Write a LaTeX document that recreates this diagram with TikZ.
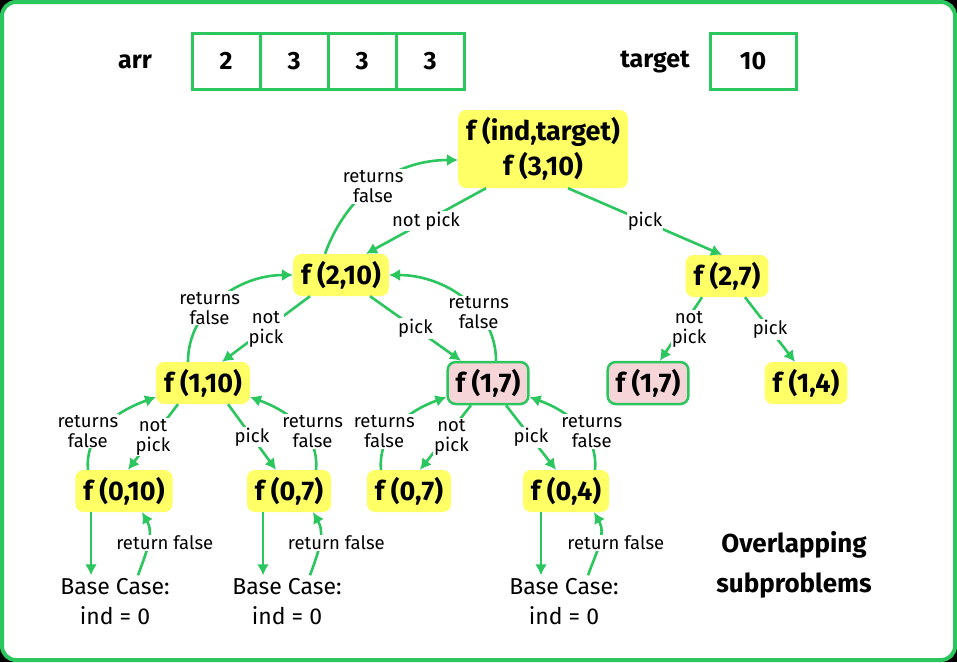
\documentclass[tikz,border=0pt]{standalone}
\usepackage{fontspec}
\setmainfont{Fira Sans}
\usetikzlibrary{arrows.meta}
\definecolor{gfgreen}{RGB}{44,198,94}
\definecolor{callyellow}{RGB}{255,255,102}
\definecolor{repeatpink}{RGB}{245,213,216}
\tikzset{>={Latex[width=12pt,length=11pt]}}

\begin{document}
\begin{tikzpicture}[x=1pt, y=-1pt,
    call/.style={rounded corners=8pt, fill=callyellow, minimum height=42pt, inner xsep=8pt, font=\fontsize{27}{35}\selectfont\bfseries},
    seen/.style={call, fill=repeatpink, draw=gfgreen, line width=2.5pt},
    cell/.style={draw=gfgreen, line width=3pt, minimum width=68pt, minimum height=56pt, font=\fontsize{25}{30}\selectfont\bfseries},
    lbl/.style={fill=white, inner sep=1pt, align=center, font=\fontsize{18.5}{20}\selectfont},
    edge/.style={draw=gfgreen, line width=2.6pt, ->},
    basecase/.style={align=center, font=\fontsize{23}{30}\selectfont}]
    % frame
    \fill [black] (0,0) rectangle (957,662);
    \draw [gfgreen, line width=4pt, fill=white, rounded corners=14pt] (2,2) rectangle (955,660);

    % input
    \node (arr) at (135,62) [font=\fontsize{25}{30}\selectfont\bfseries] {arr};
    \foreach \v [count=\i] in {2,3,3,3}
        \node (c\i) at (158+68*\i,61) [cell] {\v};
    \node (tgt) at (655,62) [font=\fontsize{25}{30}\selectfont\bfseries] {target};
    \node (tv) at (753,61) [cell, minimum width=86pt] {10};

    % recursion tree
    \node (root) at (543,149) [call, minimum height=78pt, align=center] {f (ind,target)\\f (3,10)};
    \node (a) at (341,275) [call] {f (2,10)};
    \node (b) at (727,276) [call] {f (2,7)};
    \node (aa) at (203,383) [call] {f (1,10)};
    \node (ab) at (488,383) [seen] {f (1,7)};
    \node (ba) at (648,383) [seen] {f (1,7)};
    \node (bb) at (806,383) [call] {f (1,4)};
    \node (aaa) at (124,491) [call] {f (0,10)};
    \node (aab) at (289,491) [call] {f (0,7)};
    \node (aba) at (409,491) [call] {f (0,7)};
    \node (abb) at (566,491) [call] {f (0,4)};
    \node (base1) at (115,602) [basecase] {Base Case:\\ind = 0};
    \node (base2) at (287,602) [basecase] {Base Case:\\ind = 0};
    \node (base3) at (564,602) [basecase] {Base Case:\\ind = 0};
    \node (note) at (794,565) [align=center, font=\fontsize{26}{40}\selectfont\bfseries] {Overlapping\\subproblems};

    \path [edge] ([xshift=-57pt]root.south) -- node [lbl] {not pick} ([xshift=25pt]a.north);
    \path [edge] ([xshift=25pt]root.south) -- node [lbl] {pick} ([xshift=-5pt]b.north);
    \path [edge] ([xshift=-16pt]a.north) to [out=70, in=180] node [lbl, pos=.48] {returns\\false} ([yshift=-11pt]root.west);

    \path [edge] ([xshift=-31pt]a.south) -- node [lbl] {not\\pick} ([xshift=19pt]aa.north);
    \path [edge] ([xshift=-15pt]aa.north) to [out=90, in=180] node [lbl, pos=.4] {returns\\false} (a.west);
    \path [edge] ([xshift=29pt]a.south) -- node [lbl] {pick} ([xshift=-27pt]ab.north);
    \path [edge] ([xshift=8pt]ab.north) to [out=90, in=0] node [lbl, pos=.35] {returns\\false} (a.east);
    \path [edge] ([xshift=-25pt]b.south) -- node [lbl, xshift=8pt] {not\\pick} ([xshift=12pt]ba.north);
    \path [edge] ([xshift=18pt]b.south) -- node [lbl] {pick} ([xshift=-11pt]bb.north);

    \path [edge] ([xshift=-25pt]aa.south) -- node [lbl] {not\\pick} ([xshift=4pt]aaa.north);
    \path [edge] ([xshift=-36pt]aaa.north) to [out=95, in=200] node [lbl, pos=.4, xshift=-12pt] {returns\\false} ([yshift=-14pt]aa.west);
    \path [edge] ([xshift=25pt]aa.south) -- node [lbl] {pick} ([xshift=-13pt]aab.north);
    \path [edge] ([xshift=27pt]aab.north) to [out=85, in=-20] node [lbl, pos=.4, xshift=8pt] {returns\\false} ([yshift=-14pt]aa.east);
    \path [edge] ([xshift=-17pt]ab.south) -- node [lbl, xshift=6pt] {not\\pick} ([xshift=11pt]aba.north);
    \path [edge] ([xshift=-28pt]aba.north) to [out=95, in=200] node [lbl, pos=.4, xshift=-8pt] {returns\\false} ([yshift=-14pt]ab.west);
    \path [edge] ([xshift=18pt]ab.south) -- node [lbl] {pick} ([xshift=-10pt]abb.north);
    \path [edge] ([xshift=29pt]abb.north) to [out=85, in=-20] node [lbl, pos=.4, xshift=8pt] {returns\\false} ([yshift=-14pt]ab.east);

    % base cases
    \path [edge] ([xshift=-33pt]aaa.south) -- ([xshift=-33pt]aaa.south |- base1.north);
    \path [edge] ([xshift=23pt]base1.north) to [out=70, in=-60] node [lbl, xshift=17pt] {return false} ([xshift=18pt]aaa.south);
    \path [edge] ([xshift=-26pt]aab.south) -- ([xshift=-26pt]aab.south |- base2.north);
    \path [edge] ([xshift=23pt]base2.north) to [out=70, in=-60] node [lbl, xshift=17pt] {return false} ([xshift=24pt]aab.south);
    \path [edge] ([xshift=-25pt]abb.south) -- ([xshift=-25pt]abb.south |- base3.north);
    \path [edge] ([xshift=24pt]base3.north) to [out=70, in=-60] node [lbl, xshift=17pt] {return false} ([xshift=28pt]abb.south);
\end{tikzpicture}
\end{document}
